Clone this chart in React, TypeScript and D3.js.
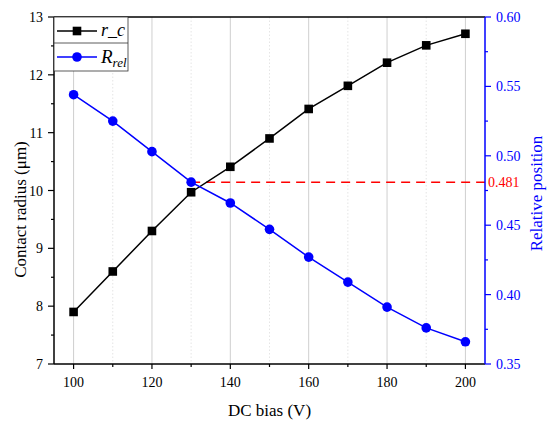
import React from "react";
import * as d3 from "d3";

const biasV = [100, 110, 120, 130, 140, 150, 160, 170, 180, 190, 200];
const contactRadius = [7.9, 8.6, 9.3, 9.97, 10.41, 10.9, 11.41, 11.81, 12.21, 12.51, 12.71];
const relPosition = [0.544, 0.525, 0.503, 0.481, 0.466, 0.447, 0.427, 0.409, 0.391, 0.376, 0.366];

const xMajor = [100, 120, 140, 160, 180, 200];
const xMinor = [110, 130, 150, 170, 190];
const yLeftMajor = [7, 8, 9, 10, 11, 12, 13];
const yLeftMinor = [7.5, 8.5, 9.5, 10.5, 11.5, 12.5];
const yRightMajor = [0.35, 0.4, 0.45, 0.5, 0.55, 0.6];
const yRightMinor = [0.375, 0.425, 0.475, 0.525, 0.575];
const markLevel = 0.481;
const markFrom = 130;

const font =
  "'Liberation Serif', Tinos, 'Times New Roman', Times, 'Noto Serif', 'DejaVu Serif', FreeSerif, 'Nimbus Roman', serif";

const App: React.FC = () => {
  const width = 550;
  const height = 424;
  const margin = { top: 17, right: 65, bottom: 60, left: 54 };
  const left = margin.left;
  const right = width - margin.right;
  const top = margin.top;
  const bottom = height - margin.bottom;

  const x = d3.scaleLinear().domain([95, 205]).range([left, right]);
  const yL = d3.scaleLinear().domain([7, 13]).range([bottom, top]);
  const yR = d3.scaleLinear().domain([0.35, 0.6]).range([bottom, top]);

  const lineL = d3.line<number>()
    .x((_, i) => x(biasV[i]))
    .y((d) => yL(d));
  const lineR = d3.line<number>()
    .x((_, i) => x(biasV[i]))
    .y((d) => yR(d));

  const blue = "#0000ff";

  return (
    <svg
      width={width}
      height={height}
      style={{ position: "absolute", left: 0, top: 0, background: "#fff", fontFamily: font }}
    >
      {/* grid */}
      {xMajor.map((v) => (
        <line key={"gM" + v} x1={x(v)} x2={x(v)} y1={top} y2={bottom} stroke="#cfcfcf" strokeWidth={1} />
      ))}
      {xMinor.map((v) => (
        <line key={"gm" + v} x1={x(v)} x2={x(v)} y1={top} y2={bottom} stroke="#dedede" strokeWidth={0.8} strokeDasharray="1.5,2" />
      ))}

      {/* reference line */}
      <line
        x1={x(markFrom)} x2={right} y1={yR(markLevel)} y2={yR(markLevel)}
        stroke="#ff0000" strokeWidth={1.5} strokeDasharray="9,6"
      />
      <text x={right + 3} y={yR(markLevel) + 5} fontSize={14} fill="#ff0000">{markLevel}</text>

      {/* series */}
      <path d={lineL(contactRadius)!} fill="none" stroke="#000" strokeWidth={1.5} />
      {contactRadius.map((d, i) => (
        <rect key={"s" + i} x={x(biasV[i]) - 4.3} y={yL(d) - 4.3} width={8.6} height={8.6} fill="#000" />
      ))}
      <path d={lineR(relPosition)!} fill="none" stroke={blue} strokeWidth={1.5} />
      {relPosition.map((d, i) => (
        <circle key={"c" + i} cx={x(biasV[i])} cy={yR(d)} r={4.8} fill={blue} />
      ))}

      {/* frame */}
      <line x1={left} x2={right} y1={top} y2={top} stroke="#000" strokeWidth={1.5} />
      <line x1={left} x2={right} y1={bottom} y2={bottom} stroke="#000" strokeWidth={1.5} />
      <line x1={left} x2={left} y1={top} y2={bottom} stroke="#000" strokeWidth={1.5} />
      <line x1={right} x2={right} y1={top} y2={bottom} stroke={blue} strokeWidth={1.5} />

      {/* bottom axis */}
      {xMajor.map((v) => (
        <g key={"xt" + v}>
          <line x1={x(v)} x2={x(v)} y1={bottom} y2={bottom + 5} stroke="#000" strokeWidth={1.2} />
          <text x={x(v)} y={bottom + 23} fontSize={14} textAnchor="middle">{v}</text>
        </g>
      ))}
      {xMinor.map((v) => (
        <line key={"xm" + v} x1={x(v)} x2={x(v)} y1={bottom} y2={bottom + 3} stroke="#000" strokeWidth={1.2} />
      ))}

      {/* left axis */}
      {yLeftMajor.map((v) => (
        <g key={"yl" + v}>
          <line x1={left - 6} x2={left} y1={yL(v)} y2={yL(v)} stroke="#000" strokeWidth={1.2} />
          <text x={left - 11} y={yL(v) + 5} fontSize={14} textAnchor="end">{v}</text>
        </g>
      ))}
      {yLeftMinor.map((v) => (
        <line key={"ylm" + v} x1={left - 3} x2={left} y1={yL(v)} y2={yL(v)} stroke="#000" strokeWidth={1.2} />
      ))}

      {/* right axis */}
      {yRightMajor.map((v) => (
        <g key={"yr" + v}>
          <line x1={right} x2={right + 6} y1={yR(v)} y2={yR(v)} stroke={blue} strokeWidth={1.2} />
          <text x={right + 11} y={yR(v) + 5} fontSize={14} fill={blue}>{d3.format(".2f")(v)}</text>
        </g>
      ))}
      {yRightMinor.map((v) => (
        <line key={"yrm" + v} x1={right} x2={right + 3} y1={yR(v)} y2={yR(v)} stroke={blue} strokeWidth={1.2} />
      ))}

      {/* axis titles */}
      <text x={(left + right) / 2} y={bottom + 52} fontSize={17} textAnchor="middle">DC bias (V)</text>
      <text
        transform={`translate(20,${(top + bottom) / 2 + 19}) rotate(-90)`}
        fontSize={17} textAnchor="middle" dy="0.35em"
      >Contact radius (μm)</text>
      <text
        transform={`translate(536,${(top + bottom) / 2 + 3}) rotate(-90)`}
        fontSize={17} textAnchor="middle" dy="0.35em" fill={blue}
      >Relative position</text>

      {/* legend */}
      <g>
        <rect x={left} y={top} width={74} height={54} fill="#fff" stroke="#333" strokeWidth={0.8} />
        <line x1={left} x2={left + 74} y1={top + 26} y2={top + 26} stroke="#333" strokeWidth={0.8} />
        <line x1={left + 3} x2={left + 43} y1={top + 14} y2={top + 14} stroke="#000" strokeWidth={1.5} />
        <rect x={left + 23 - 4.3} y={top + 14 - 4.3} width={8.6} height={8.6} fill="#000" />
        <text x={left + 47} y={top + 19} fontSize={18} fontStyle="italic">r_c</text>
        <line x1={left + 3} x2={left + 43} y1={top + 40} y2={top + 40} stroke={blue} strokeWidth={1.5} />
        <circle cx={left + 23} cy={top + 40} r={4.8} fill={blue} />
        <text x={left + 47} y={top + 46} fontSize={19} fontStyle="italic">
          R<tspan fontSize={13} dy={4}>rel</tspan>
        </text>
      </g>
    </svg>
  );
};

export default App;
